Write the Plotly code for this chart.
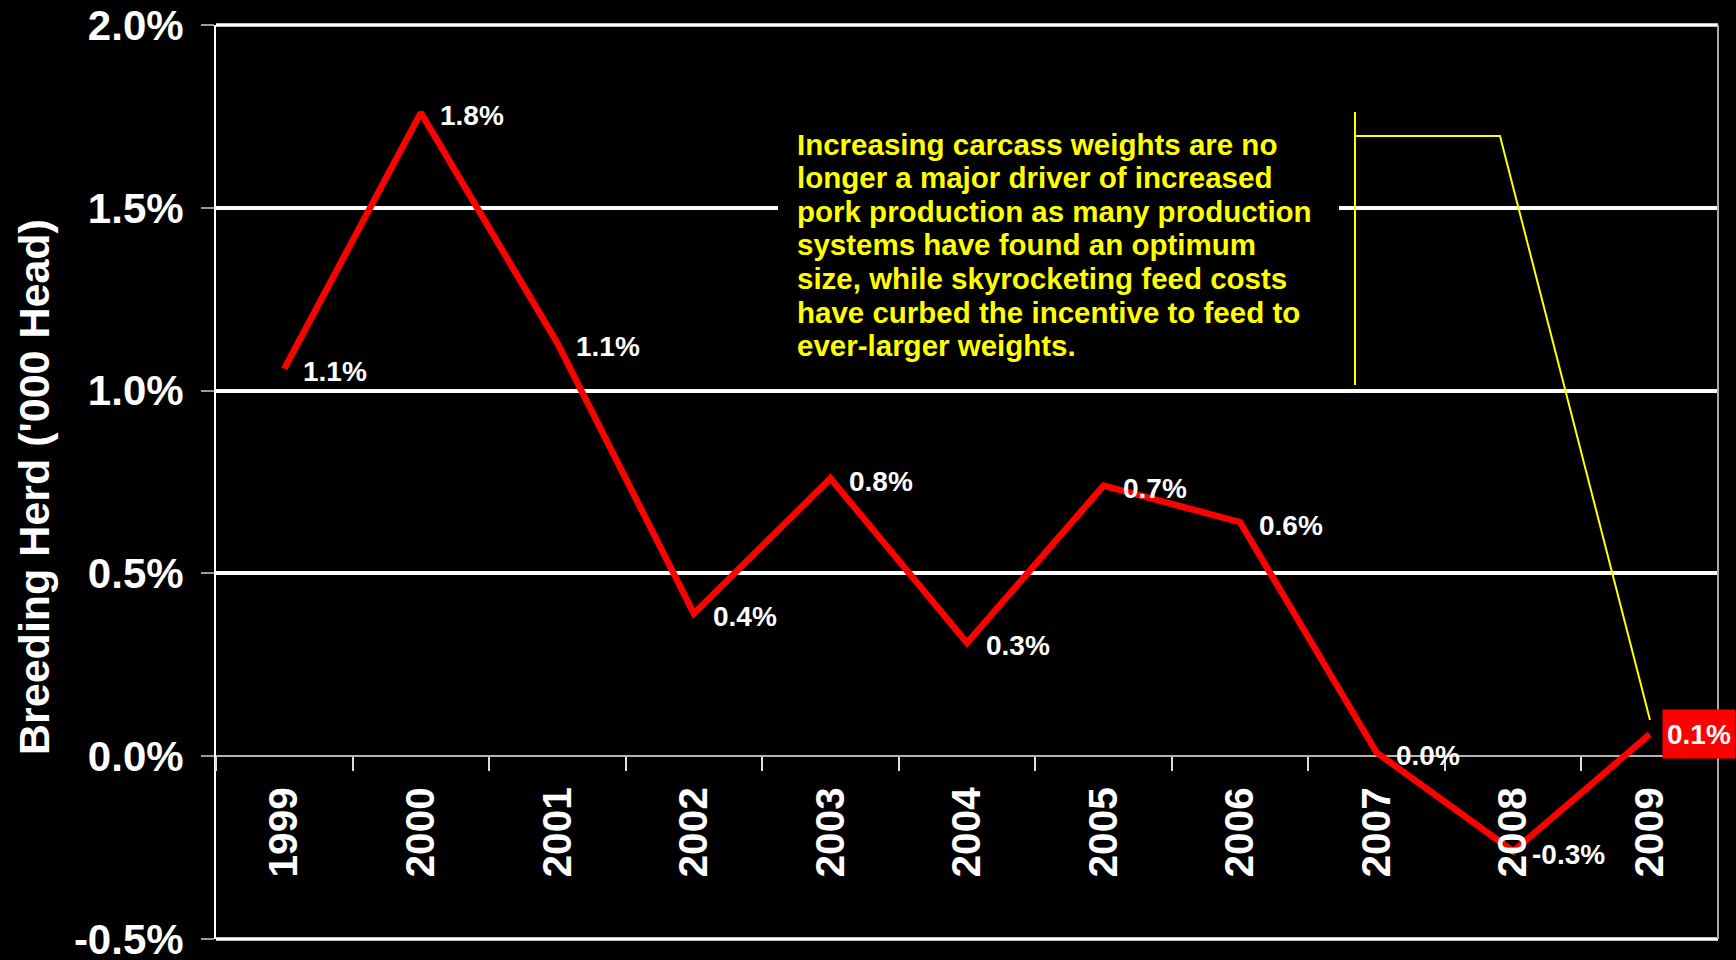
import plotly.graph_objects as go

# Annual change in breeding herd
years = ["1999", "2000", "2001", "2002", "2003", "2004", "2005", "2006", "2007", "2008", "2009"]
change = [0.0106, 0.0176, 0.0113, 0.0039, 0.0076, 0.0031, 0.0074, 0.0064, 0.0001, -0.0026, 0.0006]

y_ticks = [-0.005, 0.0, 0.005, 0.010, 0.015, 0.020]
y_title = "Breeding Herd ('000 Head)"
note_lines = [
    "Increasing carcass weights are no",
    "longer a major driver of increased",
    "pork production as many production",
    "systems have found an optimum",
    "size, while skyrocketing feed costs",
    "have curbed the incentive to feed to",
    "ever-larger weights.",
]

FONT = "Liberation Sans, Arial, sans-serif"
W, H = 1736, 960
M_L, M_R, M_T, M_B = 216, 18, 25, 21
PW, PH = W - M_L - M_R, H - M_T - M_B


def px_x(x):
    return (x - M_L) / PW


def px_y(y):
    return (H - M_B - y) / PH


def pct(v):
    return f"{v * 100:.1f}%"


fig = go.Figure()
fig.add_trace(go.Scatter(
    x=years, y=change, mode="lines",
    line=dict(color="#FF0000", width=6.5),
    hoverinfo="skip", showlegend=False,
))

annotations = []
# point labels (category axis positions are category indices)
for i, v in enumerate(change[:-1]):
    annotations.append(dict(
        x=i, y=v, xref="x", yref="y", text=pct(v), showarrow=False,
        xanchor="left", yanchor="middle", xshift=17, yshift=-3,
        font=dict(family=FONT, size=28, color="white", weight="bold"),
    ))
# latest year highlighted
annotations.append(dict(
    x=len(change) - 1, y=change[-1], xref="x", yref="y", text=pct(change[-1]),
    showarrow=False, xanchor="left", yanchor="middle", xshift=12,
    bgcolor="#FF0000", borderpad=4, height=40,
    font=dict(family=FONT, size=28, color="white", weight="bold"),
))
# callout text
for i, line in enumerate(note_lines):
    annotations.append(dict(
        x=px_x(795), y=px_y(144 + 33.6 * i), xref="paper", yref="paper",
        text=line, showarrow=False, xanchor="left", yanchor="middle",
        font=dict(family=FONT, size=29.5, color="#FFFF00", weight="bold"),
    ))
# y-axis title
annotations.append(dict(
    x=px_x(34), y=px_y(487), xref="paper", yref="paper", text=y_title,
    textangle=-90, showarrow=False, xanchor="center", yanchor="middle",
    font=dict(family=FONT, size=43, color="white", weight="bold"),
))

shapes = [
    # backing box of the callout
    dict(type="rect", xref="paper", yref="paper", layer="above",
         x0=px_x(778), x1=px_x(1339), y0=px_y(380), y1=px_y(112),
         fillcolor="black", line=dict(width=0)),
    # callout leader
    dict(type="path", xref="paper", yref="paper", layer="above",
         path=(f"M {px_x(1355)},{px_y(112)} L {px_x(1355)},{px_y(385)} "
               f"M {px_x(1355)},{px_y(136)} L {px_x(1500)},{px_y(136)} "
               f"L {px_x(1650)},{px_y(720)}"),
         line=dict(color="#FFFF00", width=2)),
    # frame: top, bottom, right
    dict(type="line", xref="paper", yref="paper", x0=0, x1=1, y0=1, y1=1,
         layer="below", line=dict(color="white", width=3.5)),
    dict(type="line", xref="paper", yref="paper", x0=0, x1=1, y0=0, y1=0,
         layer="below", line=dict(color="white", width=3.5)),
    dict(type="line", xref="paper", yref="paper", x0=1, x1=1, y0=0, y1=1,
         line=dict(color="#A8A8A8", width=2)),
]

fig.update_layout(
    width=W, height=H,
    margin=dict(l=M_L, r=M_R, t=M_T, b=M_B, autoexpand=False),
    paper_bgcolor="black", plot_bgcolor="black",
    showlegend=False,
    annotations=annotations, shapes=shapes,
    xaxis=dict(
        type="category", categoryorder="array", categoryarray=years,
        range=[-0.5, len(years) - 0.5], automargin=False,
        anchor="free", position=0.2, side="bottom",
        showgrid=False, showline=False, zeroline=False,
        ticks="outside", tickson="boundaries", ticklen=14, tickwidth=1.5,
        tickcolor="#DDDDDD", tickangle=-90, ticklabelstandoff=22,
        tickfont=dict(family=FONT, size=40.5, color="white", weight="bold"),
    ),
    yaxis=dict(
        range=[y_ticks[0] - 1e-7, y_ticks[-1] + 1e-7], automargin=False,
        tickvals=y_ticks, ticktext=[pct(v) for v in y_ticks],
        ticklabeloverflow="allow",
        showgrid=True, gridcolor="white", gridwidth=3.5,
        zeroline=True, zerolinecolor="#B4B4B4", zerolinewidth=2,
        showline=True, linecolor="white", linewidth=2,
        ticks="outside", ticklen=13, tickwidth=1.5, tickcolor="#9A9A9A",
        ticklabelstandoff=9,
        tickfont=dict(family=FONT, size=42, color="white", weight="bold"),
    ),
)

fig.write_html("out.html")
